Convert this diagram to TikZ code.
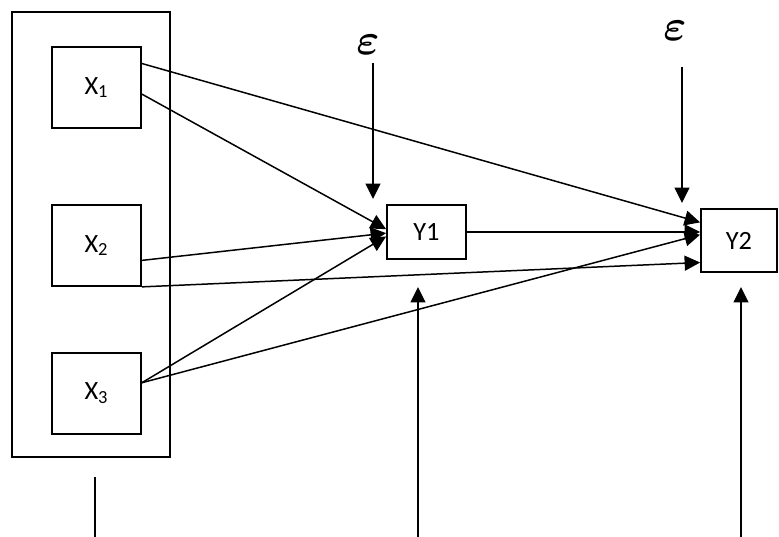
\documentclass[tikz,border=0pt]{standalone}
\usepackage{amsmath}
\usepackage{fontspec}
\setmainfont{Carlito}
\usetikzlibrary{calc,arrows.meta}
\tikzset{
	varbox/.style={draw,line width=1pt,inner sep=0pt,font=\fontsize{15}{17}\selectfont}, % boxes for the variables
	arr/.style={line width=0.85pt,-{Triangle[length=0.31cm,width=0.3cm]}},
	plainline/.style={line width=0.85pt},
	errlabel/.style={inner sep=0pt,font=\fontsize{27}{29}\selectfont},
}

\begin{document}
\begin{tikzpicture}[x=0.02cm,y=-0.02cm]
	% fix the page size
	\useasboundingbox (0,0) rectangle (779,537);
	
	% outer frame round the X variables
	\node[varbox,minimum width=3.16cm,minimum height=8.9cm] (xframe) at (91,234.5) {};
	
	% independent variables
	\node[varbox,minimum width=1.78cm,minimum height=1.62cm] (x1) at (96.5,87.5) {X\textsubscript{1}};
	\node[varbox,minimum width=1.78cm,minimum height=1.62cm] (x2) at (96.5,245.5) {X\textsubscript{2}};
	\node[varbox,minimum width=1.78cm,minimum height=1.62cm] (x3) at (96.5,393.5) {X\textsubscript{3}};
	
	% dependent variables
	\node[varbox,minimum width=1.58cm,minimum height=1.08cm] (y1) at (426.5,232) {Y1};
	\node[varbox,minimum width=1.52cm,minimum height=1.26cm] (y2) at (739,240.5) {Y2};
	
	% error terms
	\node[errlabel] (eps1) at (368,45) {$\boldsymbol{\varepsilon}$};
	\node[errlabel] (eps2) at (675,31) {$\boldsymbol{\varepsilon}$};
	
	% free ends of the short arrows
	\coordinate (e1top) at (373,63);
	\coordinate (e1tip) at (373,199);
	\coordinate (e2top) at (682,67);
	\coordinate (e2tip) at (682,203);
	\coordinate (u1low) at (418,537);
	\coordinate (u1tip) at (418,287);
	\coordinate (u2low) at (741,537);
	\coordinate (u2tip) at (741,287);
	\coordinate (framelow) at (95,477);
	\coordinate (frameend) at (95,537);
	
	% paths from X1
	\draw[arr] ($(x1.north east)!0.21!(x1.south east)$) -- ($(y2.north west)!0.22!(y2.south west)$);
	\draw[arr] ($(x1.north east)!0.58!(x1.south east)$) -- ($(y1.north west)!0.45!(y1.south west)$);
	
	% paths from X2
	\draw[arr] ($(x2.north east)!0.68!(x2.south east)$) -- ($(y1.north west)!0.52!(y1.south west)$);
	\draw[arr] (x2.south east) -- ($(y2.north west)!0.84!(y2.south west)$);
	
	% paths from X3
	\draw[arr] ($(x3.north east)!0.37!(x3.south east)$) -- ($(y1.north west)!0.58!(y1.south west)$);
	\draw[arr] ($(x3.north east)!0.37!(x3.south east)$) -- ($(y2.north west)!0.41!(y2.south west)$);
	
	% Y1 to Y2
	\draw[arr] (y1.east) -- (y1.east -| y2.west);
	
	% error arrows
	\draw[arr] (e1top) -- (e1tip);
	\draw[arr] (e2top) -- (e2tip);
	\draw[arr] (u1low) -- (u1tip);
	\draw[arr] (u2low) -- (u2tip);
	\draw[plainline] (framelow) -- (frameend);
	
\end{tikzpicture}
\end{document}
